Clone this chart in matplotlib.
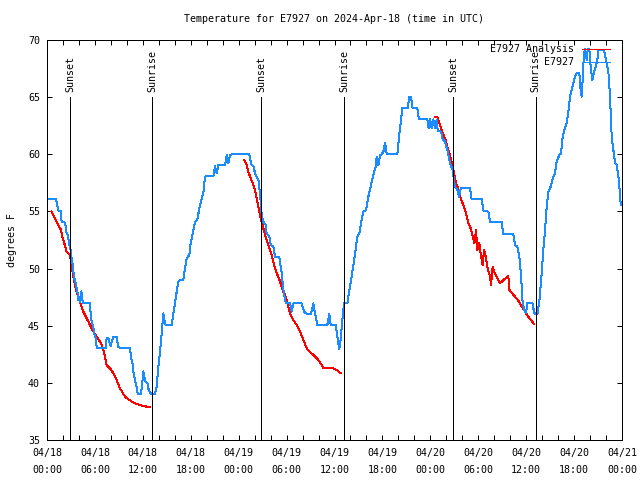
import numpy as np
import matplotlib.pyplot as plt
from matplotlib.lines import Line2D

# hours since 2024-04-18 00:00 UTC
obs_hours = [0.08, 1.13, 1.25, 1.42, 1.71, 1.84, 2.17, 2.34, 2.42, 2.55, 2.67, 2.75, 2.92, 3.0,
             3.17, 3.3, 3.42, 3.59, 3.71, 3.84, 3.92, 4.05, 4.17, 4.3, 4.42, 4.55, 4.76, 5.34,
             5.47, 5.59, 5.8, 5.93, 6.09, 6.22, 6.43, 7.35, 7.47, 7.68, 7.8, 7.97, 8.1, 8.3,
             8.72, 8.93, 10.4, 10.5, 10.7, 10.8, 11.0, 11.3, 11.35, 11.77, 11.94, 12.06, 12.2,
             12.35, 12.56, 12.69, 12.9, 13.15, 13.52, 13.73, 13.94, 14.15, 14.36, 14.57, 14.78,
             14.9, 15.61, 15.82, 16.03, 16.24, 16.45, 16.65, 17.07, 17.28, 17.49, 17.82, 17.99,
             18.24, 18.53, 18.82, 19.07, 19.37, 19.57, 19.78, 19.99, 20.83, 21.04, 21.25, 21.45,
             22.29, 22.5, 22.71, 22.92, 23.12, 25.34, 25.55, 25.84, 26.05, 26.26, 26.47, 26.67,
             26.8, 26.88, 27.09, 27.38, 27.5, 27.84, 28.01, 28.34, 28.55, 29.09, 29.39, 29.6,
             29.8, 29.89, 30.43, 30.64, 30.85, 31.06, 31.81, 32.31, 33.06, 33.35, 33.56, 33.85,
             35.1, 35.35, 35.52, 36.15, 36.36, 36.57, 36.69, 36.9, 37.11, 37.23, 37.61, 37.86,
             38.15, 38.36, 38.57, 38.86, 39.11, 39.32, 39.61, 39.95, 40.24, 40.53, 40.86, 41.16,
             41.28, 41.49, 41.7, 41.91, 42.12, 42.33, 42.53, 42.66, 43.87, 44.08, 44.29, 44.49,
             45.16, 45.37, 45.58, 45.79, 46.37, 46.58, 47.62, 47.79, 47.96, 48.17, 48.38, 48.58,
             48.79, 48.92, 49.34, 49.55, 49.84, 50.13, 50.46, 50.8, 50.96, 51.09, 51.38, 51.59,
             51.8, 52.97, 53.17, 54.43, 54.64, 55.26, 55.47, 56.93, 57.14, 58.39, 58.6, 58.89,
             59.14, 59.35, 59.56, 59.77, 59.98, 60.14, 60.77, 61.02, 61.4, 61.65, 61.94, 62.15,
             62.36, 62.57, 62.78, 63.07, 63.4, 63.61, 63.82, 64.15, 64.36, 64.57, 64.78, 65.07,
             65.28, 65.49, 65.7, 65.91, 66.12, 66.32, 66.66, 66.82, 66.95, 67.07, 67.24, 67.37,
             67.58, 67.7, 67.91, 68.08, 68.28, 68.5, 68.7, 68.91, 69.04, 69.75, 70.08, 70.29,
             70.5, 70.71, 70.92, 71.13, 71.34, 71.55, 71.75, 71.84]
obs_temp = [56.06, 56.06, 55.7, 55.07, 55.07, 54.05, 54.05, 53.7, 53.2, 53.08, 52.65, 52.2, 51.8,
            51.2, 50.6, 49.7, 49.15, 48.7, 48.3, 47.8, 47.25, 47.55, 47.1, 48.0, 47.25, 46.96,
            47.0, 46.96, 46.08, 45.35, 44.86, 44.3, 43.9, 43.1, 43.05, 43.05, 43.96, 43.96, 43.6,
            43.2, 43.6, 44.0, 44.0, 43.1, 43.05, 42.3, 41.7, 41.0, 40.3, 39.4, 39.0, 39.0, 40.1,
            41.0, 40.5, 40.1, 40.0, 39.5, 39.1, 39.03, 39.03, 39.67, 41.4, 42.7, 44.3, 46.08,
            45.2, 45.06, 45.06, 46.08, 46.96, 47.98, 48.86, 49.0, 49.0, 50.02, 50.9, 51.19, 52.2,
            53.08, 54.1, 54.25, 55.27, 56.15, 56.58, 58.04, 58.1, 58.1, 58.97, 58.33, 59.06,
            59.06, 59.94, 59.2, 59.94, 60.0, 60.0, 59.15, 58.97, 58.33, 58.04, 57.75, 56.58,
            55.56, 54.69, 54.1, 53.81, 53.08, 52.79, 52.06, 51.92, 51.04, 50.98, 49.58, 48.13,
            47.4, 47.02, 47.02, 46.23, 46.96, 46.96, 47.02, 46.08, 46.03, 46.96, 46.08, 45.06,
            45.06, 46.03, 45.06, 45.06, 44.04, 43.0, 43.17, 44.9, 46.4, 46.96, 46.96, 48.13,
            49.3, 50.3, 51.3, 52.8, 53.09, 53.96, 54.98, 55.12, 56.3, 57.17, 58.19, 58.92,
            59.79, 59.06, 59.94, 60.0, 60.23, 61.0, 60.08, 60.0, 60.0, 61.54, 62.71, 64.02,
            64.02, 65.04, 65.04, 64.02, 64.02, 63.06, 63.06, 62.27, 63.06, 62.27, 63.06, 62.27,
            63.0, 62.07, 61.98, 61.31, 61.1, 60.38, 59.21, 58.63, 57.75, 57.17, 56.88, 56.3,
            57.02, 57.02, 56.06, 56.06, 55.07, 54.98, 54.1, 54.05, 53.03, 53.03, 52.06, 51.92,
            51.04, 49.44, 46.96, 46.38, 46.08, 46.96, 47.02, 46.08, 46.03, 47.11, 49.6, 51.63,
            53.38, 55.42, 56.73, 57.17, 58.04, 58.33, 59.36, 59.94, 60.08, 61.54, 62.13, 62.71,
            63.73, 65.04, 65.63, 66.2, 66.79, 67.08, 67.08, 65.63, 65.04, 66.5, 68.83, 69.18,
            68.25, 69.18, 69.18, 67.67, 66.5, 67.23, 67.67, 68.25, 69.13, 69.13, 67.96, 67.23,
            65.04, 61.54, 60.38, 59.21, 59.06, 58.04, 56.58, 55.56]

ana1_hours = [0.58, 1.0, 1.42, 1.75, 1.92, 2.17, 2.46, 2.67, 2.88, 3.09, 3.3, 3.51, 3.71, 3.92,
              4.13, 4.34, 4.55, 4.76, 4.97, 5.18, 5.38, 5.59, 5.93, 6.22, 6.64, 6.93, 7.18, 7.47,
              7.89, 8.31, 8.72, 9.14, 9.77, 10.6, 11.23, 12.06, 12.9]
ana1_temp = [54.98, 54.4, 53.81, 53.38, 52.79, 52.21, 51.48, 51.33, 51.19, 50.17, 49.29, 48.56,
             47.98, 47.54, 47.1, 46.67, 46.23, 45.94, 45.65, 45.36, 45.06, 44.77, 44.33, 44.04,
             43.6, 43.17, 42.58, 41.56, 41.27, 40.83, 40.25, 39.52, 38.79, 38.36, 38.15, 37.98,
             37.86]
ana2_hours = [24.71, 25.0, 25.21, 25.5, 25.76, 26.05, 26.26, 26.47, 26.67, 26.88, 27.09, 27.3,
              27.51, 27.72, 27.93, 28.13, 28.34, 28.55, 28.76, 28.97, 29.18, 29.39, 29.6, 29.8,
              30.01, 30.22, 30.43, 30.64, 30.85, 31.27, 31.68, 32.1, 32.52, 32.73, 33.14, 33.56,
              33.98, 34.39, 34.6, 35.44, 35.86, 36.27, 36.77]
ana2_temp = [59.5, 59.06, 58.48, 57.9, 57.46, 56.88, 56.15, 55.42, 54.69, 54.1, 53.52, 52.94,
             52.5, 52.06, 51.63, 51.19, 50.6, 50.02, 49.58, 49.29, 48.86, 48.42, 47.98, 47.69,
             47.25, 46.67, 46.08, 45.79, 45.5, 45.06, 44.48, 43.75, 43.02, 42.82, 42.58, 42.29,
             42.0, 41.56, 41.27, 41.27, 41.27, 41.13, 40.84]
ana3_hours = [48.58, 48.92, 49.21, 49.55, 49.84, 50.13, 50.38, 50.67, 50.88, 51.09, 51.3, 51.5,
              51.8, 52.13, 52.46, 52.76, 53.05, 53.26, 53.51, 53.72, 53.88, 54.13, 54.3, 54.55,
              54.72, 54.93, 55.18, 55.47, 55.6, 55.8, 56.09, 56.3, 56.72, 57.14, 57.77, 57.89,
              58.18, 58.6, 59.02, 59.44, 59.86, 60.27, 60.69, 60.98]
ana3_temp = [63.23, 63.23, 62.56, 61.83, 61.4, 60.67, 60.08, 59.35, 58.63, 57.9, 57.31, 57.02,
             56.15, 55.56, 54.84, 53.96, 53.52, 52.94, 52.21, 53.38, 51.63, 52.21, 51.33, 50.31,
             51.63, 51.04, 50.02, 49.29, 48.56, 50.17, 49.58, 49.29, 48.71, 49.0, 49.35, 48.13,
             47.9, 47.54, 47.19, 46.67, 46.23, 45.79, 45.41, 45.15]

sun_hours = [2.92, 13.19, 26.84, 37.23, 50.88, 61.19]
sun_labels = ['Sunset', 'Sunrise', 'Sunset', 'Sunrise', 'Sunset', 'Sunrise']

tick_hours = np.arange(0, 73, 2)
major_labels = ['04/18\n00:00', '04/18\n06:00', '04/18\n12:00', '04/18\n18:00',
                '04/19\n00:00', '04/19\n06:00', '04/19\n12:00', '04/19\n18:00',
                '04/20\n00:00', '04/20\n06:00', '04/20\n12:00', '04/20\n18:00',
                '04/21\n00:00']
y_ticks = [35, 40, 45, 50, 55, 60, 65, 70]

blue = '#1a8cff'
red = '#ff0000'
font = 'DejaVu Sans Mono'
fs = 7.2
lw = 0.72  # one pixel

plt.rcParams['font.family'] = font
plt.rcParams['font.size'] = fs

fig = plt.figure(figsize=(6.4, 4.8), dpi=100)
ax = fig.add_axes([47 / 640, 40 / 480, 575 / 640, 400 / 480])

for h, a in zip([ana1_hours, ana2_hours, ana3_hours], [ana1_temp, ana2_temp, ana3_temp]):
    ax.plot(h, a, color=red, lw=lw, antialiased=False)
ax.plot(obs_hours, obs_temp, color=blue, lw=lw, antialiased=False)

for h, lab in zip(sun_hours, sun_labels):
    ax.plot([h, h], [35, 65], color='black', lw=lw, antialiased=False)
    ax.text(h, 65.45, lab, rotation=90, ha='center', va='bottom')

ax.set_xlim(0, 72)
ax.set_ylim(35, 70)
ax.set_xticks(tick_hours)
labels = []
for t in tick_hours:
    labels.append(major_labels[int(t) // 6] if t % 6 == 0 else '')
ax.set_xticklabels(labels, linespacing=1.85)
ax.set_yticks(y_ticks)
ax.set_yticklabels([str(v) for v in y_ticks])
ax.tick_params(direction='in', length=3.3, width=lw, top=True, right=True, pad=5)
ax.tick_params(axis='x', pad=6)
for s in ax.spines.values():
    s.set_linewidth(lw)

ax.set_ylabel('degrees F', labelpad=8)

# legend drawn gnuplot style: text right aligned, sample after it
leg_items = [('E7927 Analysis', red), ('E7927', blue)]
for i, (name, c) in enumerate(leg_items):
    yy = 1 - (9.5 + 13 * i) / 400
    ax.text((574 - 47) / 575, yy, name, transform=ax.transAxes, ha='right', va='center')
    ax.add_line(Line2D([(582 - 47) / 575, (610 - 47) / 575], [yy, yy], transform=ax.transAxes,
                       color=c, lw=lw, antialiased=False))

fig.text(333.5 / 640, 1 - 19 / 480, 'Temperature for E7927 on 2024-Apr-18 (time in UTC)',
         ha='center', va='center')

fig.savefig('out.png', dpi=100)
